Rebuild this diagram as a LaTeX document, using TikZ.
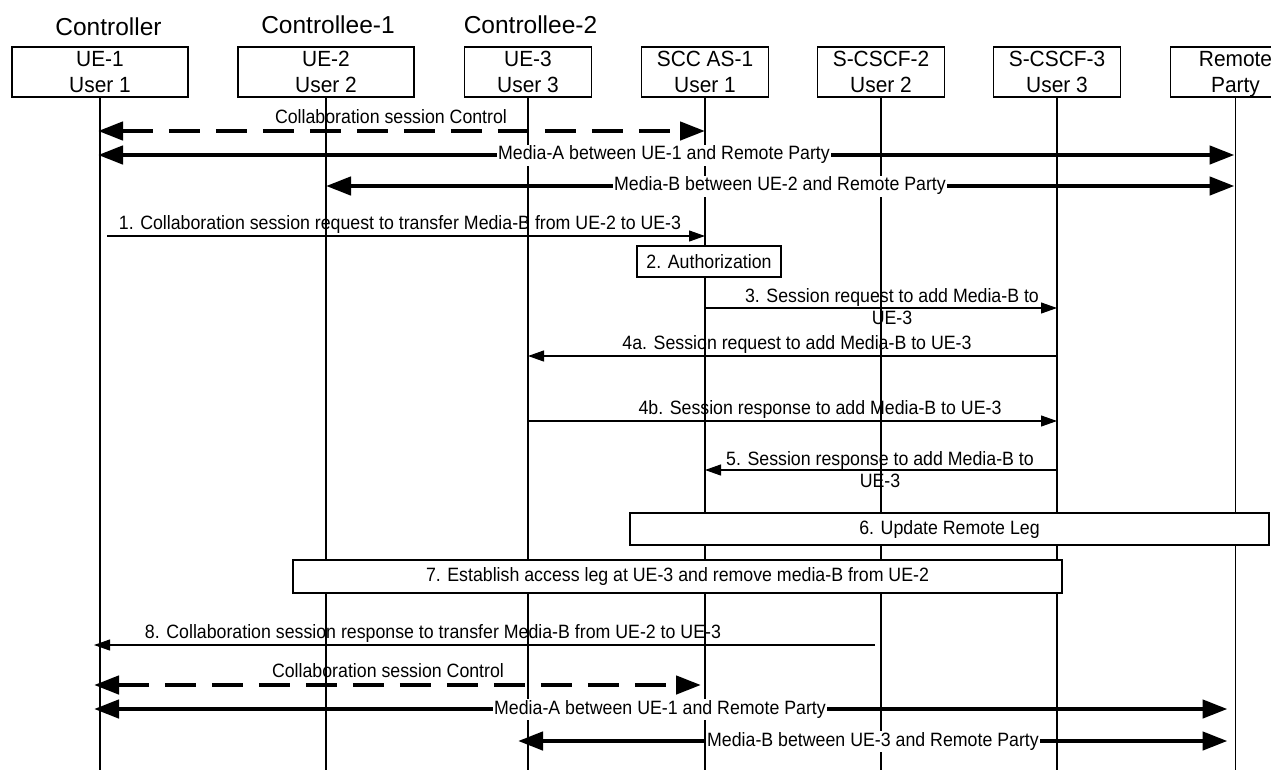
\documentclass[tikz,border=0pt]{standalone}
\usepackage{fontspec}
\setmainfont{Liberation Sans}
\newfontfamily\lblfont{Liberation Sans}[FakeStretch=0.92]
\newfontfamily\entfont{Liberation Sans}[FakeStretch=0.95]
\usetikzlibrary{arrows.meta}
\begin{document}
\begin{tikzpicture}[x=1pt,y=-1pt,
  ent/.style={draw, line width=1.2pt, fill=white, minimum height=50pt, inner sep=0pt},
  enttext/.style={font=\entfont\fontsize{22}{25}\selectfont, anchor=base, inner sep=0pt},
  role/.style={font=\fontsize{24.5}{28}\selectfont, anchor=base, inner sep=0pt},
  life/.style={line width=1.1pt},
  msg/.style={line width=1.1pt, -{Triangle[length=16pt,width=11pt]}},
  msgtext/.style={font=\lblfont\fontsize{19.3}{21}\selectfont, anchor=base, inner sep=0pt},
  media/.style={line width=4.5pt, {Triangle[length=25pt,width=18pt]}-{Triangle[length=25pt,width=18pt]}},
  ctrl/.style={media, dash pattern=on 31pt off 16pt},
  medialabel/.style={font=\lblfont\fontsize{19.3}{21}\selectfont, fill=white, inner xsep=1pt, inner ysep=1.5pt},
  stepbox/.style={draw, line width=1.2pt, fill=white, font=\lblfont\fontsize{19.3}{21}\selectfont, inner sep=0pt}
]
\useasboundingbox (0,0) rectangle (1271,769);

% roles
\node[role] (rctl) at (108.5,35) {Controller};
\node[role] (rc1) at (328,33) {Controllee-1};
\node[role] (rc2) at (530.5,33) {Controllee-2};

% entity boxes
\node[ent, minimum width=176pt] (ue1) at (100,72) {};
\node[ent, minimum width=176pt] (ue2) at (326,72) {};
\node[ent, minimum width=127pt] (ue3) at (528,72) {};
\node[ent, minimum width=127pt] (scc) at (705,72) {};
\node[ent, minimum width=127pt] (cs2) at (881,72) {};
\node[ent, minimum width=127pt] (cs3) at (1057,72) {};
\node[ent, minimum width=130pt] (rp) at (1235.5,72) {};

\node[enttext] (t1a) at (100,66) {UE-1};
\node[enttext] (t1b) at (100,92) {User 1};
\node[enttext] (t2a) at (326,66) {UE-2};
\node[enttext] (t2b) at (326,92) {User 2};
\node[enttext] (t3a) at (528,66) {UE-3};
\node[enttext] (t3b) at (528,92) {User 3};
\node[enttext] (t4a) at (705,66) {SCC AS-1};
\node[enttext] (t4b) at (705,92) {User 1};
\node[enttext] (t5a) at (881,66) {S-CSCF-2};
\node[enttext] (t5b) at (881,92) {User 2};
\node[enttext] (t6a) at (1057,66) {S-CSCF-3};
\node[enttext] (t6b) at (1057,92) {User 3};
\node[enttext] (t7a) at (1235.5,66) {Remote};
\node[enttext] (t7b) at (1235.5,92) {Party};

% lifelines
\foreach \n in {ue1,ue2,ue3,scc,cs2,cs3,rp}
  \draw[life] (\n.south) -- (\n.south |- 0,770);

% collaboration control (top)
\draw[ctrl] ([xshift=-2pt]ue1.south |- 0,131) -- (scc.south |- 0,131);
\node[msgtext] (cc1) at (391,123) {Collaboration session Control};

% media A top
\draw[media] ([xshift=-2pt]ue1.south |- 0,155) -- ([xshift=-1pt]rp.south |- 0,155);
\node[medialabel] (ma1) at (664,155) {Media-A between UE-1 and Remote Party};

% media B top
\draw[media] (ue2.south |- 0,186) -- ([xshift=-1pt]rp.south |- 0,186);
\node[medialabel] (mb1) at (780,186) {Media-B between UE-2 and Remote Party};

% 1
\draw[msg] ([xshift=7pt]ue1.south |- 0,236) -- (scc.south |- 0,236);
\node[msgtext] (m1) at (400,229) {1. Collaboration session request to transfer Media-B from UE-2 to UE-3};

% 2
\node[stepbox, minimum width=144pt, minimum height=31pt] (s2) at (709,261.5) {2. Authorization};

% 3
\draw[msg] (scc.south |- 0,308) -- (cs3.south |- 0,308);
\node[msgtext] (m3a) at (892,302) {3. Session request to add Media-B to};
\node[msgtext] (m3b) at (892,324) {UE-3};

% 4a
\draw[msg] (cs3.south |- 0,356) -- (ue3.south |- 0,356);
\node[msgtext] (m4a) at (797,349) {4a. Session request to add Media-B to UE-3};

% 4b
\draw[msg] (ue3.south |- 0,421) -- (cs3.south |- 0,421);
\node[msgtext] (m4b) at (820,414) {4b. Session response to add Media-B to UE-3};

% 5
\draw[msg] (cs3.south |- 0,470) -- (scc.south |- 0,470);
\node[msgtext] (m5a) at (880,465) {5. Session response to add Media-B to};
\node[msgtext] (m5b) at (880,487) {UE-3};

% 6
\node[stepbox, minimum width=639pt, minimum height=32pt] (s6) at (949.5,529) {6. Update Remote Leg};

% 7
\node[stepbox, minimum width=769pt, minimum height=33pt] (s7) at (677.5,576.5) {7. Establish access leg at UE-3 and remove media-B from UE-2};

% 8
\draw[msg] ([xshift=-6pt]cs2.south |- 0,645) -- ([xshift=-6pt]ue1.south |- 0,645);
\node[msgtext] (m8) at (433,638) {8. Collaboration session response to transfer Media-B from UE-2 to UE-3};

% collaboration control (bottom)
\draw[ctrl] ([xshift=-6pt]ue1.south |- 0,685) -- ([xshift=-4pt]scc.south |- 0,685);
\node[msgtext] (cc2) at (388,677) {Collaboration session Control};

% media A bottom
\draw[media] ([xshift=-6pt]ue1.south |- 0,709) -- ([xshift=-8pt]rp.south |- 0,709);
\node[medialabel] (ma2) at (660,709) {Media-A between UE-1 and Remote Party};

% media B bottom
\draw[media] ([xshift=-10pt]ue3.south |- 0,741) -- ([xshift=-8pt]rp.south |- 0,741);
\node[medialabel] (mb2) at (873,741) {Media-B between UE-3 and Remote Party};

\end{tikzpicture}
\end{document}
